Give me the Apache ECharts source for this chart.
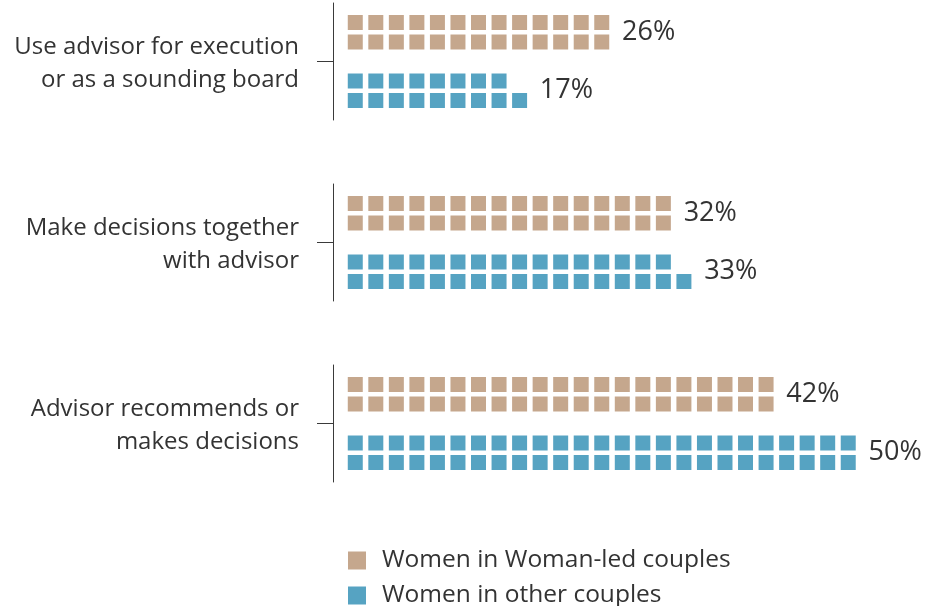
<!DOCTYPE html>
<html>
<head>
<meta charset="utf-8">
<script src="https://cdn.jsdelivr.net/npm/echarts@6/dist/echarts.min.js"></script>
<style>
  html, body { margin: 0; padding: 0; background: #fff; }
  #chart { width: 925px; height: 606px; }
</style>
</head>
<body>
<div id="chart"></div>
<script>
// one square = 1 percentage point, drawn in two rows per bar
const categories = [
  'Use advisor for execution\nor as a sounding board',
  'Make decisions together\nwith advisor',
  'Advisor recommends or\nmakes decisions'
];
const womanLed = [26, 32, 42];
const otherCouples = [17, 33, 50];
const seriesNames = ['Women in Woman-led couples', 'Women in other couples'];
const seriesColors = ['#c5a78d', '#56a3c2'];

(function() {
  const chartDom = document.getElementById('chart');
  const chart = echarts.init(chartDom);

  const font = '"Open Sans", "Noto Sans", sans-serif';
  const textColor = '#333333';
  const axisColor = '#3a3a3a';

  // 7 slots per group: rows sit at 1,2 (woman-led) and 4,5 (other), label at 3
  const slotCount = 7;
  const labelSlot = 3;

  const rowItem = (n, pct) => ({
    value: n,
    symbolRepeat: n,
    symbolBoundingData: n,
    label: pct == null ? { show: false } : { show: true, formatter: pct + '%' }
  });

  const grids = [];
  const xAxes = [];
  const yAxes = [];
  const series = [];

  categories.forEach((cat, g) => {
    grids.push({ left: 345, width: 513.5, top: 3 + g * 181, height: 117 });

    xAxes.push({
      gridIndex: g,
      type: 'value',
      min: 0,
      max: 25,
      show: false
    });

    const slots = [];
    for (let i = 0; i < slotCount; i++) slots.push(i === labelSlot ? cat : 's' + i);

    yAxes.push({
      gridIndex: g,
      type: 'category',
      inverse: true,
      boundaryGap: false,
      offset: 12,
      data: slots,
      axisLine: { show: true, onZero: false, lineStyle: { color: axisColor, width: 1 } },
      axisTick: {
        show: true,
        length: 16,
        interval: (idx) => idx === labelSlot,
        lineStyle: { color: axisColor, width: 1 }
      },
      axisLabel: {
        interval: (idx) => idx === labelSlot,
        margin: 34,
        color: textColor,
        fontFamily: font,
        align: 'right',
        formatter: (val) => val.split('\n').map(l => '{t|' + l + '}').join('\n'),
        rich: {
          t: { fontSize: 24, lineHeight: 33, color: textColor, fontFamily: font, padding: [4, 0, 0, 0] }
        }
      },
      splitLine: { show: false }
    });

    [womanLed[g], otherCouples[g]].forEach((v, s) => {
      const data = new Array(slotCount).fill('-');
      const start = s === 0 ? 1 : 4;
      const top = Math.floor(v / 2);
      data[start] = rowItem(top);
      data[start + 1] = rowItem(v - top, v);

      series.push({
        type: 'pictorialBar',
        name: seriesNames[s],
        xAxisIndex: g,
        yAxisIndex: g,
        symbol: 'rect',
        symbolSize: [15, 15],
        symbolMargin: '2!',
        barGap: '-100%',
        itemStyle: { color: seriesColors[s] },
        label: {
          position: 'right',
          distance: 10,
          offset: [0, -10],
          fontSize: 27,
          color: textColor,
          fontFamily: font
        },
        emphasis: { disabled: true },
        data: data
      });
    });
  });

  // one legend per entry so they stack exactly
  const legendTops = [548, 583];
  const legends = seriesNames.map((name, i) => ({
    data: [{ name: name, itemStyle: { color: seriesColors[i] } }],
    left: 348,
    top: legendTops[i],
    padding: 0,
    icon: 'rect',
    itemWidth: 18,
    itemHeight: 18,
    selectedMode: false,
    textStyle: {
      fontSize: 24.5,
      lineHeight: 18,
      color: textColor,
      fontFamily: font,
      padding: [0, 0, 0, 11]
    }
  }));

  const option = {
    backgroundColor: '#ffffff',
    animation: false,
    grid: grids,
    xAxis: xAxes,
    yAxis: yAxes,
    legend: legends,
    series: series
  };

  chart.setOption(option);

  window.addEventListener('resize', function() {
    chart.resize();
  });
})();
</script>
</body>
</html>
